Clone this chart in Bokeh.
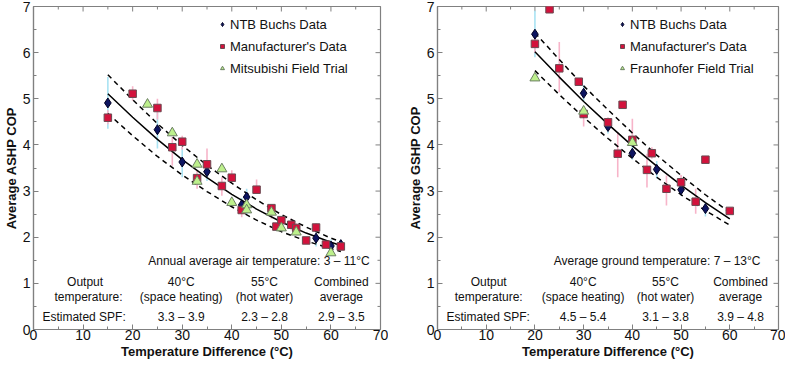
import math
from bokeh.plotting import figure
from bokeh.models import Range1d, FixedTicker, Legend, LegendItem
from bokeh.layouts import row
from bokeh.embed import file_html
from bokeh.resources import INLINE
from bokeh.core.properties import value

# ---------------- data ----------------
x_ticks = [0, 10, 20, 30, 40, 50, 60, 70]
x_minor = [5, 15, 25, 35, 45, 55, 65]
y_ticks = [0, 1, 2, 3, 4, 5, 6, 7]
y_minor = [0.5, 1.5, 2.5, 3.5, 4.5, 5.5, 6.5]

# ASHP panel
ashp_ntb_x = [15, 25, 30, 35, 42, 43, 57, 60, 62]
ashp_ntb_y = [4.91, 4.33, 3.63, 3.42, 2.70, 2.87, 1.98, 1.81, 1.84]
ashp_ntb_lo = [4.35, 3.92, 3.30, 3.22, 2.55, 2.50, 1.80, 1.70, 1.76]
ashp_ntb_hi = [5.47, 4.75, 3.95, 3.62, 2.85, 3.05, 2.25, 1.95, 1.92]

ashp_man_x = [15, 20, 25, 28, 30, 33, 35, 38, 40, 42, 45, 48, 49, 50, 52, 53, 55, 57, 59, 62]
ashp_man_y = [4.59, 5.11, 4.80, 3.95, 4.07, 3.28, 3.58, 3.11, 3.29, 2.59, 3.03, 2.63, 2.23, 2.37, 2.27, 2.20, 1.93, 2.21, 1.84, 1.80]
ashp_man_lo = [4.45, 4.96, 4.55, 3.55, 3.90, 3.05, 3.40, 2.90, 3.18, 2.43, 2.95, 2.40, 2.15, 2.20, 2.15, 2.10, 1.88, 2.10, 1.78, 1.75]
ashp_man_hi = [4.75, 5.27, 5.00, 4.17, 4.20, 3.45, 3.92, 3.30, 3.45, 2.73, 3.25, 2.70, 2.30, 2.45, 2.40, 2.30, 1.98, 2.30, 1.90, 1.90]

ashp_field_x = [23, 28, 33, 33, 38, 40, 43, 43, 48, 50, 53, 60]
ashp_field_y = [4.88, 4.26, 3.58, 3.21, 3.48, 2.75, 2.70, 2.59, 2.54, 2.20, 2.11, 1.66]

ashp_fit_x = [15, 20, 25, 30, 35, 40, 45, 50, 55, 60, 62]
ashp_fit = [5.11, 4.60, 4.12, 3.68, 3.29, 2.93, 2.61, 2.33, 2.09, 1.89, 1.82]
ashp_upper = [5.52, 4.98, 4.46, 3.99, 3.56, 3.17, 2.81, 2.49, 2.22, 1.98, 1.90]
ashp_lower = [4.68, 4.20, 3.75, 3.35, 2.99, 2.66, 2.37, 2.12, 1.92, 1.75, 1.69]

ashp_note = "Annual average air temperature: 3 \u2013 11\u00b0C"
ashp_spf = ["Estimated SPF:", "3.3 \u2013 3.9", "2.3 \u2013 2.8", "2.9 \u2013 3.5"]

# GSHP panel
gshp_ntb_x = [20, 30, 35, 40, 45, 50, 55]
gshp_ntb_y = [6.40, 5.12, 4.40, 3.82, 3.47, 3.03, 2.62]
gshp_ntb_lo = [5.90, 4.95, 4.25, 3.68, 3.27, 2.90, 2.45]
gshp_ntb_hi = [6.91, 5.30, 4.55, 3.98, 3.65, 3.15, 2.75]

gshp_man_x = [20, 23, 25, 29, 30, 35, 37, 38, 40, 43, 44, 47, 50, 53, 55, 60]
gshp_man_y = [6.19, 6.94, 5.66, 5.37, 4.67, 4.49, 3.81, 4.87, 4.11, 3.46, 3.82, 3.05, 3.19, 2.77, 3.68, 2.57]
gshp_man_lo = [6.00, 6.94, 5.14, 5.37, 4.40, 4.35, 3.30, 4.87, 4.03, 3.08, 3.70, 2.69, 3.05, 2.51, 3.68, 2.57]
gshp_man_hi = [6.35, 6.94, 6.23, 5.37, 4.80, 4.60, 4.28, 4.87, 4.57, 3.81, 3.95, 3.34, 3.35, 3.05, 3.68, 2.57]

gshp_field_x = [20, 30, 40]
gshp_field_y = [5.45, 4.73, 4.05]

gshp_fit_x = [20, 25, 30, 35, 40, 45, 50, 55, 60]
gshp_fit = [6.02, 5.47, 4.94, 4.45, 3.98, 3.54, 3.13, 2.75, 2.40]
gshp_upper = [6.43, 5.85, 5.28, 4.76, 4.26, 3.78, 3.34, 2.92, 2.54]
gshp_lower = [5.61, 5.09, 4.60, 4.14, 3.71, 3.30, 2.92, 2.58, 2.26]

gshp_note = "Average ground temperature: 7 \u2013 13\u00b0C"
gshp_spf = ["Estimated SPF:", "4.5 \u2013 5.4", "3.1 \u2013 3.8", "3.9 \u2013 4.8"]

row_output = ["Output", "40\u00b0C", "55\u00b0C", "Combined"]
row_target = ["temperature:", "(space heating)", "(hot water)", "average"]

# ---------------- styles ----------------
FONT = "Liberation Sans"
AXIS_C = "#808080"
NAVY = "#0c1460"
RED = "#d3123c"
GREEN = "#bdf08c"
CYAN = "#a9e3f3"
PINK = "#f7b4c9"
TXT = "#111111"
FRAME_H = 323


def style_axis(ax, label_standoff):
    ax.axis_line_color = AXIS_C
    ax.axis_line_width = 1.2
    ax.major_tick_line_color = AXIS_C
    ax.minor_tick_line_color = AXIS_C
    ax.major_tick_in = 5
    ax.major_tick_out = 0
    ax.minor_tick_in = 3
    ax.minor_tick_out = 0
    ax.major_label_text_font = FONT
    ax.major_label_text_font_size = "14px"
    ax.major_label_text_color = TXT
    ax.major_label_standoff = label_standoff
    ax.axis_label_text_font = FONT
    ax.axis_label_text_font_size = "13px"
    ax.axis_label_text_font_style = "bold"
    ax.axis_label_text_color = TXT
    ax.axis_label_standoff = 1


def panel(ylabel, frame_w, min_left, min_right, ntb, man, field, fit, note, spf,
          field_name, col_x, first_x, note_x, legend_x):
    p = figure(frame_width=frame_w, frame_height=FRAME_H,
               x_range=Range1d(0, 70), y_range=Range1d(0, 7),
               output_backend="svg", toolbar_location=None,
               min_border_top=6, min_border_left=min_left,
               min_border_right=min_right, min_border_bottom=0)
    p.xgrid.visible = False
    p.ygrid.visible = False
    p.outline_line_color = AXIS_C
    p.outline_line_width = 1.2
    p.background_fill_color = "white"
    p.border_fill_color = "white"

    p.xaxis.ticker = FixedTicker(ticks=x_ticks, minor_ticks=x_minor)
    p.yaxis.ticker = FixedTicker(ticks=y_ticks, minor_ticks=y_minor)
    p.xaxis.axis_label = "Temperature Difference (\u00b0C)"
    p.yaxis.axis_label = ylabel
    style_axis(p.xaxis[0], 0)
    style_axis(p.yaxis[0], 3)

    # inward ticks on the top and right frame edges
    p.ray(x=x_ticks, y=[7] * len(x_ticks), length=5, length_units="screen",
          angle=-math.pi / 2, line_color=AXIS_C, line_width=1)
    p.ray(x=x_minor, y=[7] * len(x_minor), length=3, length_units="screen",
          angle=-math.pi / 2, line_color=AXIS_C, line_width=1)
    p.ray(x=[70] * len(y_ticks), y=y_ticks, length=5, length_units="screen",
          angle=math.pi, line_color=AXIS_C, line_width=1)
    p.ray(x=[70] * len(y_minor), y=y_minor, length=3, length_units="screen",
          angle=math.pi, line_color=AXIS_C, line_width=1)

    # error bars
    nx, ny, nlo, nhi = ntb
    mx, my, mlo, mhi = man
    p.segment(x0=nx, y0=nlo, x1=nx, y1=nhi, line_color=CYAN, line_width=1.6)
    p.segment(x0=mx, y0=mlo, x1=mx, y1=mhi, line_color=PINK, line_width=1.6)

    # fit lines
    fx, fy, fu, fl = fit
    p.line(fx, fu, line_color="black", line_width=1.5, line_dash="5 4")
    p.line(fx, fl, line_color="black", line_width=1.5, line_dash="5 4")
    p.line(fx, fy, line_color="black", line_width=1.5)

    r_ntb = p.scatter(nx, ny, marker="diamond", size=10, fill_color=NAVY,
                      line_color="#000022", line_width=1)
    r_man = p.scatter(mx, my, marker="square", size=7.5, fill_color=RED,
                      line_color="#6b4a52", line_width=1)
    fx2, fy2 = field
    r_fld = p.scatter(fx2, fy2, marker="triangle", size=10, fill_color=GREEN,
                      line_color="#6c7f63", line_width=1)

    legend = Legend(items=[LegendItem(label="NTB Buchs Data", renderers=[r_ntb]),
                           LegendItem(label="Manufacturer's Data", renderers=[r_man]),
                           LegendItem(label=field_name, renderers=[r_fld])],
                    location=(legend_x, FRAME_H - 10 - 60),
                    label_text_font=FONT, label_text_font_size="13px",
                    label_text_color=TXT,
                    glyph_width=10, glyph_height=16, label_height=16,
                    label_standoff=3, spacing=6, padding=0, margin=0,
                    border_line_alpha=0, background_fill_alpha=0)
    p.add_layout(legend)

    tf = value(FONT)
    ts = value("12px")
    p.text(x=[note_x], y=[1.48], text=[note], text_font=tf, text_font_size=ts,
           text_align="right", text_baseline="middle", text_color=TXT)
    p.text(x=[first_x[0]] + col_x, y=[1.03] * 4, text=row_output,
           text_font=tf, text_font_size=ts, text_align="center",
           text_baseline="middle", text_color=TXT)
    p.text(x=[first_x[1]] + col_x, y=[0.70] * 4, text=row_target,
           text_font=tf, text_font_size=ts, text_align="center",
           text_baseline="middle", text_color=TXT)
    p.text(x=[first_x[2]] + col_x, y=[0.27] * 4, text=spf,
           text_font=tf, text_font_size=ts, text_align="center",
           text_baseline="middle", text_color=TXT)
    return p


p1 = panel("Average ASHP COP", 347, 30, 8,
           (ashp_ntb_x, ashp_ntb_y, ashp_ntb_lo, ashp_ntb_hi),
           (ashp_man_x, ashp_man_y, ashp_man_lo, ashp_man_hi),
           (ashp_field_x, ashp_field_y),
           (ashp_fit_x, ashp_fit, ashp_upper, ashp_lower),
           ashp_note, ashp_spf, "Mitsubishi Field Trial",
           [29.8, 46.6, 62.1], [10.4, 11.1, 10.2], 67.8, 184)

p2 = panel("Average GSHP COP", 341, 49, 7,
           (gshp_ntb_x, gshp_ntb_y, gshp_ntb_lo, gshp_ntb_hi),
           (gshp_man_x, gshp_man_y, gshp_man_lo, gshp_man_hi),
           (gshp_field_x, gshp_field_y),
           (gshp_fit_x, gshp_fit, gshp_upper, gshp_lower),
           gshp_note, gshp_spf, "Fraunhofer Field Trial",
           [29.9, 46.8, 62.2], [10.5, 10.5, 10.4], 66.3, 180)

layout = row(p1, p2)
open("out.html", "w").write(file_html(layout, INLINE))
